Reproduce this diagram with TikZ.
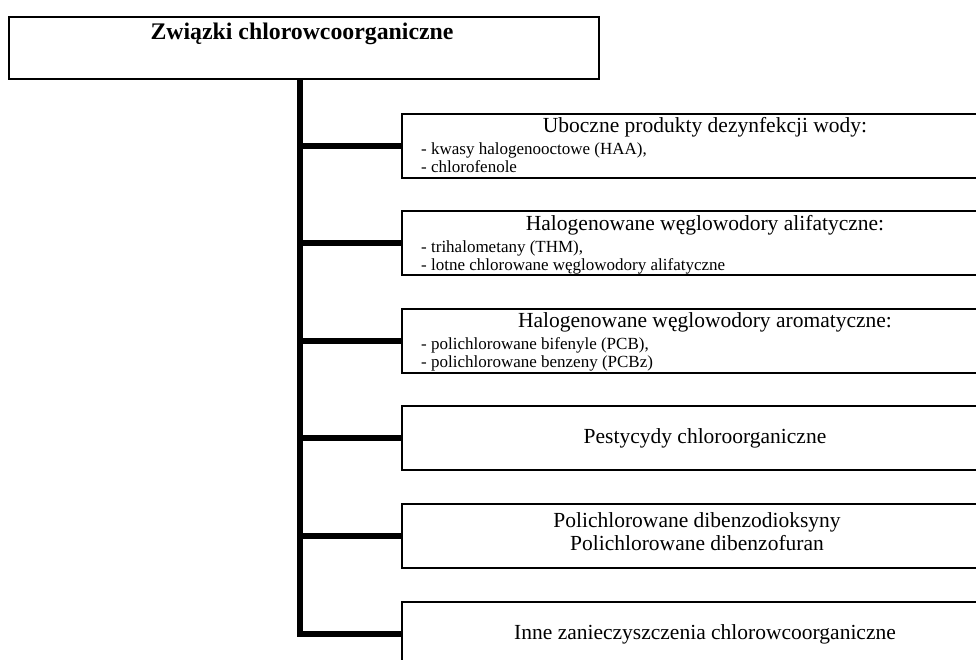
\documentclass[tikz,border=0pt]{standalone}
\usepackage{fontspec}
\setmainfont{Liberation Serif}
\begin{document}
\begin{tikzpicture}[x=1pt,y=1pt,
  box/.style={draw, line width=1.6pt, rectangle, inner sep=0pt, anchor=north west, minimum width=609pt, minimum height=64pt},
  topbox/.style={draw, line width=1.6pt, rectangle, inner sep=0pt, anchor=north west, minimum width=590pt, minimum height=62pt},
  trunk/.style={line width=6pt, line join=miter},
  hdr/.style={anchor=base, font=\fontsize{21.5}{25}\selectfont, inner sep=0pt},
  sub/.style={anchor=base west, font=\fontsize{17}{20}\selectfont, inner sep=0pt},
  ttl/.style={anchor=base, font=\fontsize{23.8}{28}\selectfont\bfseries, inner sep=0pt}]
\useasboundingbox (0,0) rectangle (976,660);
\clip (0,0) rectangle (976,660);
\fill[white] (0,0) rectangle (976,660);
% top box
\node[topbox] (top) at (8,644) {};
\node[ttl] (ttl) at (302,620) {Związki chlorowcoorganiczne};
% right boxes (tops at 113,210.5,308,405,503,601 px)
\node[box] (b1) at (401,547) {};
\node[box] (b2) at (401,449.5) {};
\node[box] (b3) at (401,352) {};
\node[box] (b4) at (401,255) {};
\node[box] (b5) at (401,157) {};
\node[box] (b6) at (401,59) {};
% texts
\node[hdr] (h1) at (705,527) {Uboczne produkty dezynfekcji wody:};
\node[sub] (s11) at (421,505) {- kwasy halogenooctowe (HAA),};
\node[sub] (s12) at (421,487) {- chlorofenole};
\node[hdr] (h2) at (705,429.5) {Halogenowane węglowodory alifatyczne:};
\node[sub] (s21) at (421,407.5) {- trihalometany (THM),};
\node[sub] (s22) at (421,389.5) {- lotne chlorowane węglowodory alifatyczne};
\node[hdr] (h3) at (705,332) {Halogenowane węglowodory aromatyczne:};
\node[sub] (s31) at (421,310) {- polichlorowane bifenyle (PCB),};
\node[sub] (s32) at (421,292) {- polichlorowane benzeny (PCBz)};
\node[hdr] (h4) at (705,216) {Pestycydy chloroorganiczne};
\node[hdr] (h5a) at (697,132.5) {Polichlorowane dibenzodioksyny};
\node[hdr] (h5b) at (697,109.5) {Polichlorowane dibenzofuran};
\node[hdr] (h6) at (705,20.5) {Inne zanieczyszczenia chlorowcoorganiczne};
% connectors
\coordinate (tx) at (300,0);
\draw[trunk] (top.south -| tx) |- (b6.west);
\foreach \b in {b1,b2,b3,b4,b5}{
  \draw[trunk] (\b.west -| tx) -- (\b.west);
}
\end{tikzpicture}
\end{document}
